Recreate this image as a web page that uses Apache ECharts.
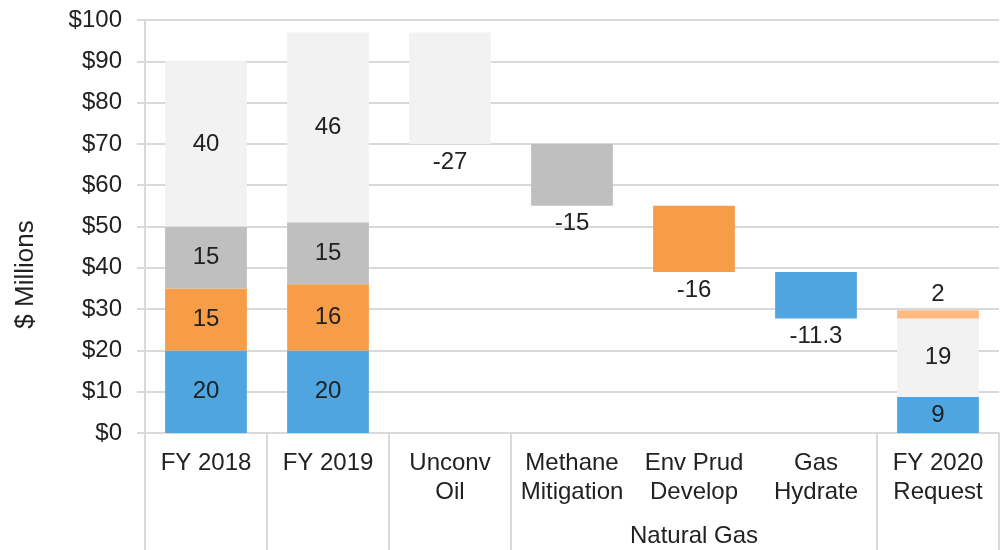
<!DOCTYPE html>
<html>
<head>
<meta charset="utf-8">
<script src="https://cdn.jsdelivr.net/npm/echarts@6/dist/echarts.min.js"></script>
<style>
  html, body { margin: 0; padding: 0; background: #fff; }
  #chart { width: 1002px; height: 550px; }
</style>
</head>
<body>
<div id="chart"></div>
<script>
// categories along the bottom
const categories = ['FY 2018', 'FY 2019', 'Unconv\nOil', 'Methane\nMitigation', 'Env Prud\nDevelop', 'Gas\nHydrate', 'FY 2020\nRequest'];
const groupLabel = 'Natural Gas';
const yTicks = [0, 10, 20, 30, 40, 50, 60, 70, 80, 90, 100];

// stacked totals: blue, orange, gray, light
const fy2018 = [20, 15, 15, 40];
const fy2019 = [20, 16, 15, 46];
// reductions, in order Unconv Oil, Methane, Env Prud, Gas Hydrate
const changes = [-27, -15, -16, -11.3];
// FY 2020: blue, light, light orange
const fy2020 = [8.7, 19, 2];

const colors = {
  blue: '#4fa5df',
  orange: '#f89d47',
  gray: '#bfbfbf',
  light: '#f2f2f2',
  lightOrange: '#fdbb80'
};
const textColor = '#222';
const fontFamily = 'Liberation Sans, Arial, sans-serif';

// which series each change bar is drawn in
const changeSeries = ['light', 'gray', 'orange', 'blue'];

// running base for the floating bars
let running = fy2019.reduce((a, b) => a + b, 0);
const base = [0, 0];
changes.forEach(c => { running += c; base.push(Math.round(running * 10) / 10); });
base.push(0);

const keys = ['blue', 'orange', 'gray', 'light', 'lightOrange'];
const rows = {};
keys.forEach(k => rows[k] = categories.map(() => '-'));
['blue', 'orange', 'gray', 'light'].forEach((k, i) => {
  rows[k][0] = fy2018[i];
  rows[k][1] = fy2019[i];
});
changes.forEach((c, i) => {
  rows[changeSeries[i]][2 + i] = {
    value: -c,
    label: { position: 'bottom', distance: 6, formatter: String(c) }
  };
});
rows.blue[6] = { value: fy2020[0], label: { formatter: String(Math.round(fy2020[0])) } };
rows.light[6] = fy2020[1];
rows.lightOrange[6] = { value: fy2020[2], label: { position: 'top', distance: 4 } };

const series = [{
  name: 'base',
  type: 'bar',
  stack: 'w',
  silent: true,
  itemStyle: { color: 'transparent' },
  data: base
}];
keys.forEach(k => {
  series.push({
    name: k,
    type: 'bar',
    stack: 'w',
    barCategoryGap: '33%',
    itemStyle: { color: colors[k] },
    label: {
      show: true,
      position: 'inside',
      color: textColor,
      fontSize: 24,
      fontFamily: fontFamily
    },
    data: rows[k]
  });
});

const chart = echarts.init(document.getElementById('chart'));
chart.setOption({
  animation: false,
  grid: { left: 145, right: 3, top: 20, bottom: 117 },
  xAxis: [{
    type: 'category',
    data: categories,
    axisLine: { show: false },
    axisTick: { show: false },
    axisLabel: {
      interval: 0,
      margin: 16,
      color: textColor,
      fontSize: 24,
      lineHeight: 29,
      fontFamily: fontFamily
    }
  }, {
    type: 'value',
    position: 'bottom',
    min: 0,
    max: categories.length,
    splitLine: { show: false },
    axisLine: { show: true, lineStyle: { color: '#d9d9d9', width: 2 } },
    axisTick: {
      show: true,
      length: 117,
      customValues: [0, 1, 2, 3, 6, 7],
      lineStyle: { color: '#d9d9d9', width: 2 }
    },
    axisLabel: {
      customValues: [4.5],
      formatter: () => groupLabel,
      margin: 91,
      color: textColor,
      fontSize: 24,
      fontFamily: fontFamily
    }
  }],
  yAxis: {
    type: 'value',
    min: yTicks[0],
    max: yTicks[yTicks.length - 1],
    interval: 10,
    name: '$ Millions',
    nameLocation: 'middle',
    nameGap: 106,
    nameRotate: 90,
    nameTextStyle: {
      color: textColor,
      fontSize: 26,
      fontFamily: fontFamily,
      padding: [0, 96, 0, 0]
    },
    axisLine: { show: true, lineStyle: { color: '#d9d9d9', width: 2 } },
    axisTick: { show: true, length: 8, lineStyle: { color: '#d9d9d9', width: 2 } },
    splitLine: { show: true, lineStyle: { color: '#d9d9d9', width: 2 } },
    axisLabel: {
      margin: 23,
      color: textColor,
      fontSize: 24,
      fontFamily: fontFamily,
      formatter: v => '$' + v
    }
  },
  series: series
});
</script>
</body>
</html>
